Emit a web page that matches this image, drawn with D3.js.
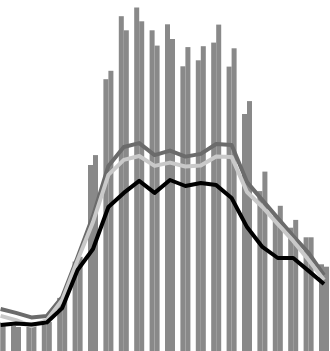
<!DOCTYPE html>
<html>
<head>
<meta charset="utf-8">
<script src="https://cdn.jsdelivr.net/npm/d3@7"></script>
<style>
    body { margin: 0; background: #fff; }
    svg { display: block; }
</style>
</head>
<body>
<svg width="330" height="351"></svg>
<script>
    var slots = d3.range(22);

    var barsA = [12.7, 11.3, 11, 11.7, 20.7, 32.8, 65, 93.6, 114.6, 117.5, 109.9,
        111.9, 97.9, 99.9, 105.8, 97.8, 82, 56.3, 48, 44.1, 40.9, 31.9];
    var barsB = [12, 11, 11.3, 12.7, 21.7, 34.4, 68.3, 96.4, 109.9, 112.9, 104.8,
        107, 104.3, 104.6, 111.8, 103.9, 86.3, 62.8, 51.4, 46.7, 40.9, 31.1];

    var darkLine = [17, 15.7, 14.2, 14.7, 21, 34.3, 48, 64.7, 71, 72.3, 68.3,
        69.8, 67.8, 68.7, 72, 71.7, 59.3, 53.3, 47.3, 41.3, 35.7, 28.3];
    var lightLine = [14.7, 13.3, 11.3, 13.3, 20, 33.3, 46, 61.7, 66.7, 68, 64.7,
        65.8, 64.5, 64.8, 67.8, 67.7, 56, 51, 45.3, 39.7, 33.3, 26.7];
    var blackLine = [11.7, 12.2, 11.8, 12.5, 17.3, 30, 37, 51, 55.7, 59.7, 55.7,
        60, 58, 59, 58.3, 54, 44.3, 37.7, 34, 34, 29.7, 25.3];

    var svg = d3.select("svg");

    // chart is cropped: first group hangs off the left edge, zero sits below the bottom
    var x = d3.scaleBand()
        .domain(slots)
        .range([-7.1, 331.7])
        .paddingInner(0.35)
        .paddingOuter(0.175);
    var sub = d3.scaleBand()
        .domain(["a", "b"])
        .range([0, x.bandwidth()]);
    var y = d3.scaleLinear()
        .domain([0, 120])
        .range([360, 0]);

    var rows = slots.map(function(i) {
        return { slot: i, a: barsA[i], b: barsB[i] };
    });

    var groups = svg.selectAll("g.slot")
        .data(rows)
        .enter()
        .append("g")
        .attr("class", "slot")
        .attr("transform", function(d) { return "translate(" + x(d.slot) + ",0)"; });

    groups.selectAll("rect")
        .data(function(d) { return [{ k: "a", v: d.a }, { k: "b", v: d.b }]; })
        .enter()
        .append("rect")
        .attr("x", function(d) { return sub(d.k); })
        .attr("y", function(d) { return y(d.v); })
        .attr("width", sub.bandwidth())
        .attr("height", function(d) { return y(0) - y(d.v); })
        .attr("fill", "#898989");

    var line = d3.line()
        .x(function(d, i) { return x(i) + x.bandwidth() / 2; })
        .y(function(d) { return y(d); });

    var series = [
        { values: darkLine, color: "#6b6b6b" },
        { values: lightLine, color: "#c9c9c9" },
        { values: blackLine, color: "#000000" }
    ];

    svg.selectAll("path.series")
        .data(series)
        .enter()
        .append("path")
        .attr("class", "series")
        .attr("d", function(d) { return line(d.values); })
        .attr("fill", "none")
        .attr("stroke", function(d) { return d.color; })
        .attr("stroke-width", 4)
        .attr("stroke-linejoin", "round");
</script>
</body>
</html>
